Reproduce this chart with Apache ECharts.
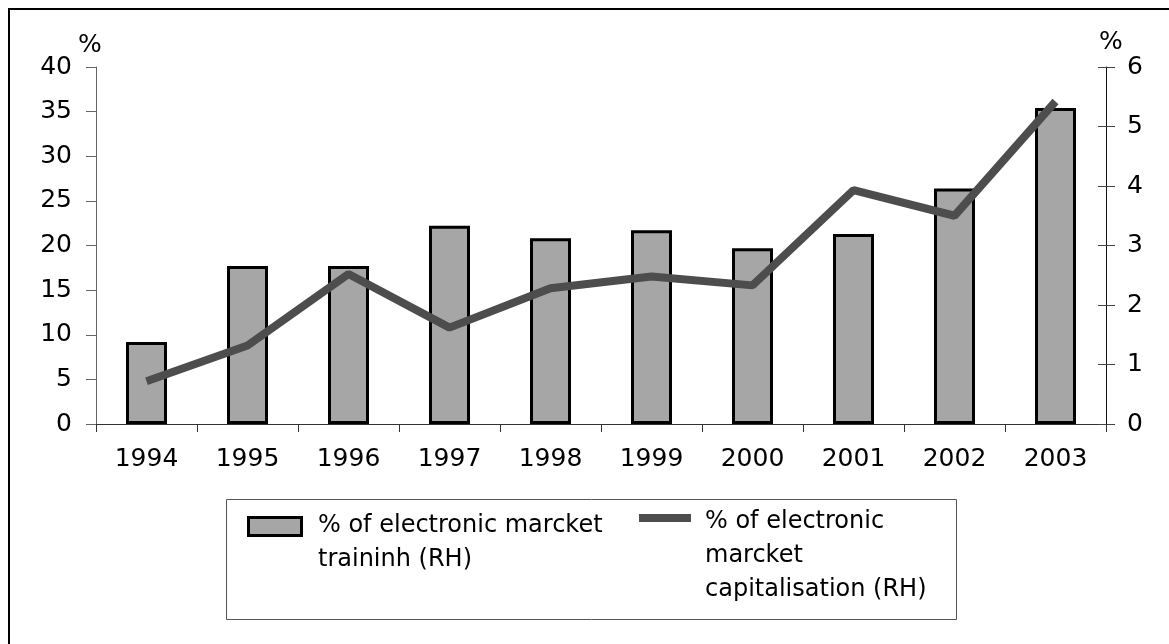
<!DOCTYPE html>
<html>
<head>
<meta charset="utf-8">
<script src="https://cdn.jsdelivr.net/npm/echarts@6/dist/echarts.min.js"></script>
<style>
  html, body { margin: 0; padding: 0; background: #fff; }
  #chart { width: 1169px; height: 644px; }
</style>
</head>
<body>
<div id="chart"></div>
<script>
  const years = ['1994', '1995', '1996', '1997', '1998', '1999', '2000', '2001', '2002', '2003'];
  const tradingShare = [9.2, 17.7, 17.7, 22.2, 20.8, 21.7, 19.7, 21.3, 26.4, 35.4];
  const capShare = [0.72, 1.32, 2.52, 1.62, 2.28, 2.48, 2.33, 3.93, 3.5, 5.42];
  const barName = '% of electronic marcket\ntraininh (RH)';
  const lineName = '% of electronic\nmarcket\ncapitalisation (RH)';

  const font = 'DejaVu Sans';
  const chart = echarts.init(document.getElementById('chart'));

  chart.setOption({
    animation: false,
    backgroundColor: '#fff',
    grid: { left: 96, right: 63, top: 67, bottom: 220, containLabel: false },
    xAxis: {
      type: 'category',
      data: years,
      axisLine: { lineStyle: { color: '#333', width: 1 } },
      axisTick: { show: true, length: 8, lineStyle: { color: '#333' } },
      axisLabel: { color: '#000', fontSize: 25, fontFamily: font, margin: 23 }
    },
    yAxis: [
      {
        type: 'value', min: 0, max: 40, interval: 5,
        name: '%', nameLocation: 'end', nameGap: 9,
        nameTextStyle: { color: '#000', fontSize: 25, fontFamily: font, align: 'center', padding: [0, 12, 0, 0] },
        axisLine: { show: true, lineStyle: { color: '#666', width: 1 } },
        axisTick: { show: true, length: 10, lineStyle: { color: '#666' } },
        axisLabel: { color: '#000', fontSize: 25, fontFamily: font, margin: 24 },
        splitLine: { show: false }
      },
      {
        type: 'value', min: 0, max: 6, interval: 1, position: 'right',
        name: '%', nameLocation: 'end', nameGap: 9,
        nameTextStyle: { color: '#000', fontSize: 25, fontFamily: font, align: 'center', padding: [0, 0, 0, 10] },
        axisLine: { show: true, lineStyle: { color: '#111', width: 1 } },
        axisTick: { show: true, length: 9, lineStyle: { color: '#444' } },
        axisLabel: { color: '#000', fontSize: 25, fontFamily: font, margin: 21 },
        splitLine: { show: false }
      },
      {
        // inner half of the crossing ticks on the right axis
        type: 'value', min: 0, max: 6, interval: 1, position: 'right',
        axisLine: { show: false },
        axisTick: { show: true, inside: true, length: 8, lineStyle: { color: '#444' } },
        axisLabel: { show: false },
        splitLine: { show: false }
      }
    ],
    series: [
      {
        name: barName,
        type: 'bar',
        data: tradingShare,
        barWidth: 41,
        itemStyle: { color: '#a6a6a6', borderColor: '#000', borderWidth: 3 }
      },
      {
        name: lineName,
        type: 'line',
        yAxisIndex: 1,
        data: capShare,
        symbol: 'none',
        lineStyle: { color: '#4d4d4d', width: 8 },
        itemStyle: { color: '#4d4d4d' }
      }
    ],
    graphic: [
      // outer frame (cropped on right and bottom)
      { type: 'rect', silent: true, shape: { x: 9, y: 9, width: 1400, height: 900 },
        style: { fill: 'none', stroke: '#000', lineWidth: 2 } },
      // legend box
      { type: 'rect', silent: true, shape: { x: 226.5, y: 499.5, width: 730, height: 120 },
        style: { fill: '#fff', stroke: '#555', lineWidth: 1 } },
      { type: 'rect', silent: true, shape: { x: 248.5, y: 517.5, width: 53, height: 18 },
        style: { fill: '#a6a6a6', stroke: '#000', lineWidth: 3 } },
      { type: 'text', silent: true, x: 318, y: 509,
        style: { text: barName, fill: '#000', font: '24px ' + font, lineHeight: 34, verticalAlign: 'top' } },
      { type: 'rect', silent: true, shape: { x: 639, y: 514, width: 52, height: 8 },
        style: { fill: '#4d4d4d' } },
      { type: 'text', silent: true, x: 705, y: 505,
        style: { text: lineName, fill: '#000', font: '24px ' + font, lineHeight: 34, verticalAlign: 'top' } }
    ]
  });
</script>
</body>
</html>
